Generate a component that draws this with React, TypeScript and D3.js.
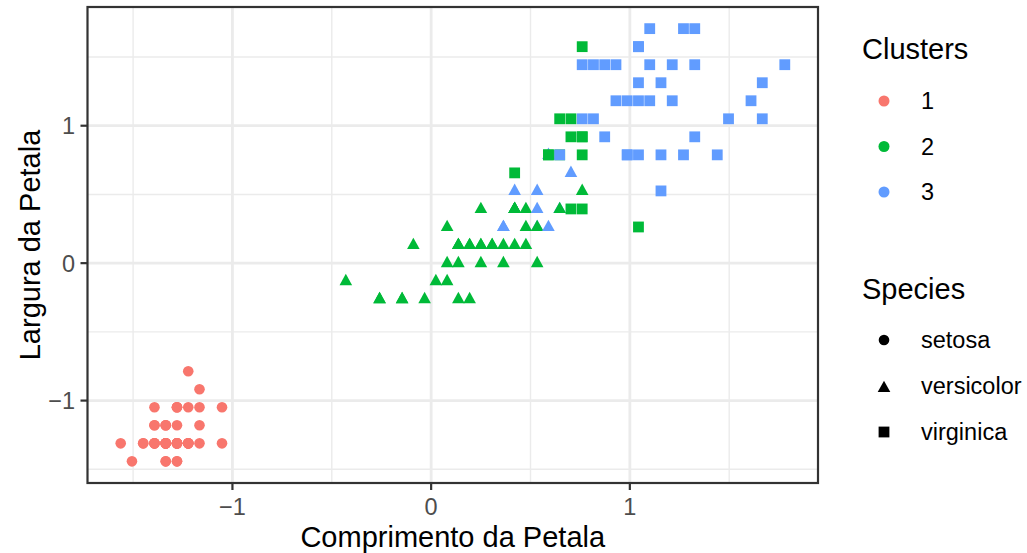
import React from "react";
import * as d3 from "d3";

// Iris petal measurements (cm), rows 1..150
const petalLength = [
  1.4,1.4,1.3,1.5,1.4,1.7,1.4,1.5,1.4,1.5,
  1.5,1.6,1.4,1.1,1.2,1.5,1.3,1.4,1.7,1.5,
  1.7,1.5,1.0,1.7,1.9,1.6,1.6,1.5,1.4,1.6,
  1.6,1.5,1.5,1.4,1.5,1.2,1.3,1.4,1.3,1.5,
  1.3,1.3,1.3,1.6,1.9,1.4,1.6,1.4,1.5,1.4,
  4.7,4.5,4.9,4.0,4.6,4.5,4.7,3.3,4.6,3.9,
  3.5,4.2,4.0,4.7,3.6,4.4,4.5,4.1,4.5,3.9,
  4.8,4.0,4.9,4.7,4.3,4.4,4.8,5.0,4.5,3.5,
  3.8,3.7,3.9,5.1,4.5,4.5,4.7,4.4,4.1,4.0,
  4.4,4.6,4.0,3.3,4.2,4.2,4.2,4.3,3.0,4.1,
  6.0,5.1,5.9,5.6,5.8,6.6,4.5,6.3,5.8,6.1,
  5.1,5.3,5.5,5.0,5.1,5.3,5.5,6.7,6.9,5.0,
  5.7,4.9,6.7,4.9,5.7,6.0,4.8,4.9,5.6,5.8,
  6.1,6.4,5.6,5.1,5.6,6.1,5.6,5.5,4.8,5.4,
  5.6,5.1,5.1,5.9,5.7,5.2,5.0,5.2,5.4,5.1,
];

const petalWidth = [
  0.2,0.2,0.2,0.2,0.2,0.4,0.3,0.2,0.2,0.1,
  0.2,0.2,0.1,0.1,0.2,0.4,0.4,0.3,0.3,0.3,
  0.2,0.4,0.2,0.5,0.2,0.2,0.4,0.2,0.2,0.2,
  0.2,0.4,0.1,0.2,0.2,0.2,0.2,0.1,0.2,0.2,
  0.3,0.3,0.2,0.6,0.4,0.3,0.2,0.2,0.2,0.2,
  1.4,1.5,1.5,1.3,1.5,1.3,1.6,1.0,1.3,1.4,
  1.0,1.5,1.0,1.4,1.3,1.4,1.5,1.0,1.5,1.1,
  1.8,1.3,1.5,1.2,1.3,1.4,1.4,1.7,1.5,1.0,
  1.1,1.0,1.2,1.6,1.5,1.6,1.5,1.3,1.3,1.3,
  1.2,1.4,1.2,1.0,1.3,1.2,1.3,1.3,1.1,1.3,
  2.5,1.9,2.1,1.8,2.2,2.1,1.7,1.8,1.8,2.5,
  2.0,1.9,2.1,2.0,2.4,2.3,1.8,2.2,2.3,1.5,
  2.3,2.0,2.0,1.8,2.1,1.8,1.8,1.8,2.1,1.6,
  1.9,2.0,2.2,1.5,1.4,2.3,2.4,1.8,1.8,2.1,
  2.4,2.3,1.9,2.3,2.5,2.3,1.9,2.0,2.3,1.8,
];

const speciesNames = ["setosa", "versicolor", "virginica"];
// 0 = setosa, 1 = versicolor, 2 = virginica
const speciesCode = [
  0,0,0,0,0,0,0,0,0,0, 0,0,0,0,0,0,0,0,0,0, 0,0,0,0,0,0,0,0,0,0, 0,0,0,0,0,0,0,0,0,0, 0,0,0,0,0,0,0,0,0,0,
  1,1,1,1,1,1,1,1,1,1, 1,1,1,1,1,1,1,1,1,1, 1,1,1,1,1,1,1,1,1,1, 1,1,1,1,1,1,1,1,1,1, 1,1,1,1,1,1,1,1,1,1,
  2,2,2,2,2,2,2,2,2,2, 2,2,2,2,2,2,2,2,2,2, 2,2,2,2,2,2,2,2,2,2, 2,2,2,2,2,2,2,2,2,2, 2,2,2,2,2,2,2,2,2,2,
];

const clusterNames = ["1", "2", "3"];
const cluster = [
  1,1,1,1,1,1,1,1,1,1, 1,1,1,1,1,1,1,1,1,1, 1,1,1,1,1,1,1,1,1,1, 1,1,1,1,1,1,1,1,1,1, 1,1,1,1,1,1,1,1,1,1,
  3,3,3,2,2,2,3,2,2,2, 2,2,2,2,2,3,2,2,2,2, 3,2,2,2,2,3,3,3,2,2, 2,2,2,2,2,3,3,2,2,2, 2,2,2,2,2,2,2,2,2,2,
  3,2,3,3,3,3,2,3,3,3, 3,3,3,2,2,3,3,3,3,2, 3,2,3,2,3,3,2,3,3,3, 3,3,3,2,2,3,3,3,2,3, 3,3,2,3,3,3,2,3,3,2,
];

const xTicks = [-1, 0, 1];
const yTicks = [-1, 0, 1];
const xMinor = [-1.5, -0.5, 0.5, 1.5];
const yMinor = [-1.5, -0.5, 0.5, 1.5];

const clusterColors = ["#F8766D", "#00BA38", "#619CFF"];
const FONT = "'Liberation Sans', Arial, Helvetica, sans-serif";

function zscore(v: number[]) {
  const m = d3.mean(v) as number;
  const s = d3.deviation(v) as number;
  return v.map((d) => (d - m) / s);
}

function Shape({ kind, x, y, fill }: { kind: number; x: number; y: number; fill: string }) {
  if (kind === 0) return <circle cx={x} cy={y} r={5.3} fill={fill} />;
  if (kind === 1)
    return (
      <path
        d={`M${x},${y - 7.3}L${x + 6.3},${y + 4.1}L${x - 6.3},${y + 4.1}Z`}
        fill={fill}
      />
    );
  return <rect x={x - 5.4} y={y - 5.4} width={10.8} height={10.8} fill={fill} />;
}

export default function App() {
  const W = 1027;
  const H = 553;
  const L = 87.5, R = 818, T = 7, B = 483;

  const xs = zscore(petalLength);
  const ys = zscore(petalWidth);
  const xe = d3.extent(xs) as [number, number];
  const ye = d3.extent(ys) as [number, number];
  const xr = xe[1] - xe[0];
  const yr = ye[1] - ye[0];
  const x = d3.scaleLinear().domain([xe[0] - 0.05 * xr, xe[1] + 0.05 * xr]).range([L, R]);
  const y = d3.scaleLinear().domain([ye[0] - 0.05 * yr, ye[1] + 0.05 * yr]).range([B, T]);

  const fmt = (v: number) => (v < 0 ? "\u2212" + Math.abs(v) : String(v));
  const grid = "#EBEBEB";

  return (
    <svg width={W} height={H} style={{ position: "absolute", left: 0, top: 0 }} fontFamily={FONT}>
      <rect x={0} y={0} width={W} height={H} fill="#fff" />
      {/* grid */}
      {xMinor.map((v) => (
        <line key={"xm" + v} x1={x(v)} x2={x(v)} y1={T} y2={B} stroke={grid} strokeWidth={1.4} />
      ))}
      {yMinor.map((v) => (
        <line key={"ym" + v} x1={L} x2={R} y1={y(v)} y2={y(v)} stroke={grid} strokeWidth={1.4} />
      ))}
      {xTicks.map((v) => (
        <line key={"xg" + v} x1={x(v)} x2={x(v)} y1={T} y2={B} stroke={grid} strokeWidth={2.8} />
      ))}
      {yTicks.map((v) => (
        <line key={"yg" + v} x1={L} x2={R} y1={y(v)} y2={y(v)} stroke={grid} strokeWidth={2.8} />
      ))}
      {/* points */}
      {xs.map((xv, i) => (
        <Shape key={i} kind={speciesCode[i]} x={x(xv)} y={y(ys[i])} fill={clusterColors[cluster[i] - 1]} />
      ))}
      {/* border */}
      <rect x={L} y={T} width={R - L} height={B - T} fill="none" stroke="#333333" strokeWidth={2.2} />
      {/* x axis */}
      {xTicks.map((v) => (
        <g key={"xt" + v}>
          <line x1={x(v)} x2={x(v)} y1={B} y2={B + 7} stroke="#333333" strokeWidth={2.2} />
          <text x={x(v)} y={514.5} textAnchor="middle" fontSize={23.5} fill="#4D4D4D">
            {fmt(v)}
          </text>
        </g>
      ))}
      {yTicks.map((v) => (
        <g key={"yt" + v}>
          <line x1={L - 7} x2={L} y1={y(v)} y2={y(v)} stroke="#333333" strokeWidth={2.2} />
          <text x={75} y={y(v)} dy="0.36em" textAnchor="end" fontSize={23.5} fill="#4D4D4D">
            {fmt(v)}
          </text>
        </g>
      ))}
      <text x={(L + R) / 2} y={547} textAnchor="middle" fontSize={29} fill="#000">
        Comprimento da Petala
      </text>
      <text
        transform={`translate(40,${(T + B) / 2}) rotate(-90)`}
        textAnchor="middle"
        fontSize={29}
        fill="#000"
      >
        Largura da Petala
      </text>
      {/* legend: clusters */}
      <text x={862} y={59} fontSize={29} fill="#000">Clusters</text>
      {clusterNames.map((c, i) => (
        <g key={"lc" + c}>
          <circle cx={884} cy={101 + i * 45.5} r={5.5} fill={clusterColors[i]} />
          <text x={921} y={101 + i * 45.5} dy="0.36em" fontSize={23.5} fill="#000">
            {c}
          </text>
        </g>
      ))}
      {/* legend: species */}
      <text x={862} y={299} fontSize={29} fill="#000">Species</text>
      {speciesNames.map((s, i) => (
        <g key={"ls" + s}>
          <Shape kind={i} x={884} y={i === 1 ? 388 : 340 + i * 46} fill="#000" />
          <text x={921} y={340 + i * 46} dy="0.36em" fontSize={23.5} fill="#000">
            {s}
          </text>
        </g>
      ))}
    </svg>
  );
}
